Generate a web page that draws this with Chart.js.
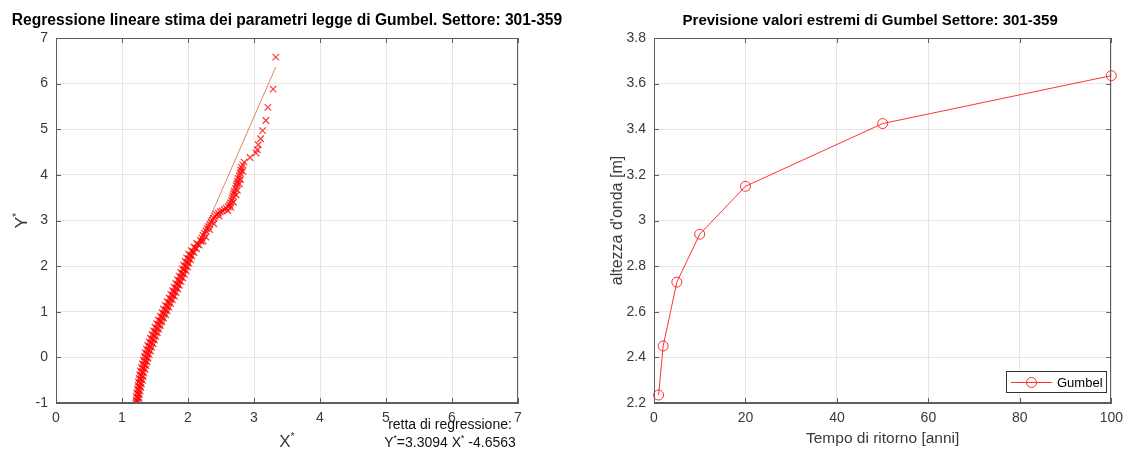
<!DOCTYPE html>
<html>
<head>
<meta charset="utf-8">
<script src="https://cdn.jsdelivr.net/npm/chart.js@4.4.1/dist/chart.umd.min.js"></script>
<style>
  html, body { margin: 0; padding: 0; background: #fff; overflow: hidden; }
  .panel { position: absolute; top: 0; width: 565px; height: 451px; }
  #left { left: 0; }
  #right { left: 565px; }
</style>
</head>
<body>
<div class="panel" id="left"><canvas id="regChart"></canvas></div>
<div class="panel" id="right"><canvas id="gumbelChart"></canvas></div>
<script>
// ridotte X* / Y* dei campioni ordinati (settore 301-359)
const regX = [
  3.33, 3.29, 3.21, 3.18, 3.13, 3.10, 3.065, 3.05, 3.03, 2.94, 2.85,
  2.83, 2.81, 2.80, 2.79, 2.78, 2.76, 2.75, 2.74, 2.73, 2.72, 2.70, 2.69, 2.68, 2.67,
  2.66, 2.64, 2.63, 2.61, 2.58, 2.55, 2.52, 2.49, 2.46, 2.43, 2.41, 2.39, 2.37, 2.35,
  2.33, 2.31, 2.29, 2.27, 2.25, 2.23, 2.21, 2.19,
  2.83, 2.795, 2.78, 2.75, 2.73, 2.69, 2.65, 2.60, 2.47, 2.39, 2.33, 2.27, 2.23,
  2.13, 2.20, 2.09, 2.17, 2.05, 2.13, 2.01, 2.09, 1.98, 2.06, 1.96, 2.04, 1.935, 2.015,
  1.915, 1.995, 1.89, 1.97, 1.865, 1.945, 1.84, 1.92, 1.815, 1.895, 1.79, 1.87,
  1.765, 1.845, 1.74, 1.82, 1.715, 1.795, 1.685, 1.765, 1.655, 1.735, 1.63, 1.71,
  1.605, 1.685, 1.58, 1.66, 1.55, 1.63, 1.525, 1.605, 1.50, 1.58, 1.475, 1.555,
  1.455, 1.535, 1.43, 1.51, 1.41, 1.49, 1.39, 1.47, 1.37, 1.45, 1.35, 1.43,
  1.34, 1.41, 1.325, 1.395, 1.31, 1.38, 1.295, 1.365, 1.28, 1.35, 1.27, 1.33,
  1.26, 1.32, 1.25, 1.31, 1.245, 1.295, 1.235, 1.285, 1.225, 1.275, 1.22, 1.26,
  1.215, 1.255, 1.21, 1.25,
  2.15, 2.11, 2.07, 2.035, 2.01, 1.99, 1.965, 1.94, 1.92, 1.89, 1.87, 1.84, 1.82,
  1.79, 1.77, 1.74, 1.71, 1.68, 1.66, 1.63, 1.605, 1.58, 1.55, 1.53, 1.505, 1.48,
  1.46, 1.44, 1.42, 1.40, 1.38, 1.37, 1.35, 1.34, 1.32, 1.31, 1.295, 1.285, 1.275,
  1.265, 1.255, 1.245, 1.24, 1.23];
const regY = [
  6.58, 5.88, 5.48, 5.19, 4.97, 4.79, 4.66, 4.55, 4.48, 4.38, 4.28,
  4.22, 4.16, 4.10, 4.04, 3.98, 3.92, 3.86, 3.81, 3.76, 3.70, 3.64, 3.59, 3.54, 3.49,
  3.44, 3.39, 3.34, 3.30, 3.27, 3.24, 3.21, 3.19, 3.16, 3.13, 3.09, 3.05, 3.01, 2.97,
  2.92, 2.87, 2.82, 2.77, 2.72, 2.67, 2.62, 2.57,
  4.08, 3.90, 3.80, 3.66, 3.56, 3.40, 3.29, 3.22, 3.10, 2.93, 2.80, 2.64, 2.55,
  2.50, 2.54, 2.42, 2.46, 2.34, 2.38, 2.26, 2.30, 2.18, 2.22, 2.10, 2.14, 2.02, 2.06,
  1.94, 1.98, 1.86, 1.90, 1.78, 1.82, 1.70, 1.74, 1.62, 1.66, 1.54, 1.58,
  1.46, 1.50, 1.38, 1.42, 1.30, 1.34, 1.22, 1.26, 1.14, 1.18, 1.06, 1.10,
  0.98, 1.02, 0.90, 0.94, 0.82, 0.86, 0.74, 0.78, 0.66, 0.70, 0.58, 0.62,
  0.50, 0.54, 0.42, 0.46, 0.34, 0.38, 0.26, 0.30, 0.18, 0.22, 0.10, 0.14,
  0.02, 0.06, -0.06, -0.02, -0.14, -0.10, -0.22, -0.18, -0.30, -0.26, -0.38, -0.34,
  -0.46, -0.42, -0.54, -0.50, -0.62, -0.58, -0.70, -0.66, -0.78, -0.74, -0.86, -0.82,
  -0.94, -0.90, -1.0, -0.98,
  2.48, 2.40, 2.32, 2.24, 2.16, 2.08, 2.00, 1.92, 1.84, 1.76, 1.68, 1.60, 1.52,
  1.44, 1.36, 1.28, 1.20, 1.12, 1.04, 0.96, 0.88, 0.80, 0.72, 0.64, 0.56, 0.48,
  0.40, 0.32, 0.24, 0.16, 0.08, 0.00, -0.08, -0.16, -0.24, -0.32, -0.40, -0.48, -0.56,
  -0.64, -0.72, -0.80, -0.88, -0.96];

// retta di regressione Y* = a X* + b
const slope = 3.3094;
const intercept = -4.6563;
const fitRangeX = [1.22, 3.33];

// previsione valori estremi
const returnPeriods = [1, 2, 5, 10, 20, 50, 100];
const waveHeights = [2.235, 2.45, 2.73, 2.94, 3.15, 3.425, 3.635];

const regXTicks = [0, 1, 2, 3, 4, 5, 6, 7];
const regYTicks = [-1, 0, 1, 2, 3, 4, 5, 6, 7];
const tempoTicks = [0, 20, 40, 60, 80, 100];
const altezzaTicks = [2.2, 2.4, 2.6, 2.8, 3, 3.2, 3.4, 3.6, 3.8];

const FONT = "'Liberation Sans', Arial, Helvetica, sans-serif";
const AXIS_COLOR = '#5e5e5e';
const TEXT_COLOR = '#3a3a3a';

function axis(min, max, ticks, opts) {
  return {
    type: 'linear',
    min, max,
    afterBuildTicks: s => { s.ticks = ticks.map(v => ({ value: v })); },
    afterFit: s => {
      if (opts.width !== undefined) s.width = opts.width;
      if (opts.height !== undefined) s.height = opts.height;
    },
    ticks: {
      color: TEXT_COLOR,
      font: { family: FONT, size: 14 },
      padding: opts.pad,
      maxRotation: 0,
      autoSkip: false,
      callback: v => String(Math.round(v * 10) / 10)
    },
    grid: { color: '#e6e6e6', lineWidth: 1, drawTicks: false },
    border: { display: true, color: AXIS_COLOR, width: 1 }
  };
}

// testo con apici (Y*, X*)
function drawParts(ctx, parts, x, y, size, align) {
  const sup = size * 0.62;
  let total = 0;
  parts.forEach(([t, isSup]) => {
    ctx.font = `${isSup ? sup : size}px ${FONT}`;
    total += ctx.measureText(t).width;
  });
  let cx = align === 'center' ? x - total / 2 : (align === 'right' ? x - total : x);
  ctx.textAlign = 'left';
  parts.forEach(([t, isSup]) => {
    ctx.font = `${isSup ? sup : size}px ${FONT}`;
    ctx.fillText(t, cx, isSup ? y - size * 0.42 : y);
    cx += ctx.measureText(t).width;
  });
}

// box, tacche interne, titoli ed etichette in stile MATLAB
const decor = {
  id: 'decor',
  afterDraw(chart, args, o) {
    const ctx = chart.ctx;
    const a = chart.chartArea;
    const xs = chart.scales.x, ys = chart.scales.y;
    ctx.save();
    ctx.strokeStyle = AXIS_COLOR;
    ctx.lineWidth = 1;
    ctx.strokeRect(Math.round(a.left) + 0.5, Math.round(a.top) + 0.5,
      Math.round(a.right - a.left) - 1, Math.round(a.bottom - a.top) - 1);
    ctx.beginPath();
    xs.ticks.forEach(t => {
      const px = Math.round(xs.getPixelForValue(t.value)) + 0.5;
      ctx.moveTo(px, a.bottom); ctx.lineTo(px, a.bottom - 5);
      ctx.moveTo(px, a.top); ctx.lineTo(px, a.top + 5);
    });
    ys.ticks.forEach(t => {
      const py = Math.round(ys.getPixelForValue(t.value)) + 0.5;
      ctx.moveTo(a.left, py); ctx.lineTo(a.left + 5, py);
      ctx.moveTo(a.right, py); ctx.lineTo(a.right - 5, py);
    });
    ctx.stroke();

    ctx.fillStyle = '#000';
    ctx.textBaseline = 'alphabetic';
    ctx.textAlign = 'center';
    ctx.font = `bold ${o.titleSize}px ${FONT}`;
    ctx.fillText(o.title, (a.left + a.right) / 2 + (o.titleShift || 0), 25);

    ctx.fillStyle = TEXT_COLOR;
    const midY = (a.top + a.bottom) / 2;
    ctx.save();
    ctx.translate(o.yLabelX, midY);
    ctx.rotate(-Math.PI / 2);
    drawParts(ctx, o.yLabel, 0, 0, o.yLabelSize, 'center');
    ctx.restore();
    drawParts(ctx, o.xLabel, (a.left + a.right) / 2, o.xLabelY, o.xLabelSize, 'center');
    if (o.extra) o.extra(ctx, chart);
    ctx.restore();
  }
};

new Chart(document.getElementById('regChart'), {
  type: 'scatter',
  data: {
    datasets: [
      {
        label: 'campioni',
        data: regX.map((x, i) => ({ x, y: regY[i] })),
        pointStyle: 'crossRot',
        pointRadius: 4.6,
        borderColor: 'rgba(255,0,0,0.75)',
        borderWidth: 1.3,
        order: 1
      },
      {
        type: 'line',
        label: 'regressione',
        data: fitRangeX.map(x => ({ x, y: slope * x + intercept })),
        borderColor: 'rgba(217,83,25,0.7)',
        borderWidth: 1,
        pointRadius: 0,
        order: 2
      }
    ]
  },
  options: {
    responsive: true,
    maintainAspectRatio: false,
    animation: false,
    layout: { padding: { top: 38, right: 47, bottom: 0, left: 0 } },
    scales: {
      x: axis(0, 7, regXTicks, { height: 48, pad: 7 }),
      y: axis(-1, 7, regYTicks, { width: 56, pad: 8 })
    },
    plugins: {
      legend: { display: false },
      tooltip: { enabled: false },
      decor: {
        title: 'Regressione lineare stima dei parametri legge di Gumbel. Settore: 301-359',
        titleSize: 15.6,
        yLabel: [['Y', false], ['*', true]],
        yLabelX: 27,
        yLabelSize: 17,
        xLabel: [['X', false], ['*', true]],
        xLabelY: 447,
        xLabelSize: 17,
        extra(ctx) {
          ctx.fillStyle = '#111';
          ctx.textAlign = 'center';
          ctx.font = `14px ${FONT}`;
          ctx.fillText('retta di regressione:', 450, 429);
          drawParts(ctx, [['Y', false], ['*', true], ['=' + slope.toFixed(4) + ' X', false], ['*', true],
            [' ' + intercept.toFixed(4), false]], 450, 447, 14, 'center');
        }
      }
    }
  },
  plugins: [decor]
});

new Chart(document.getElementById('gumbelChart'), {
  type: 'line',
  data: {
    datasets: [{
      label: 'Gumbel',
      data: returnPeriods.map((t, i) => ({ x: t, y: waveHeights[i] })),
      borderColor: 'rgba(255,0,0,0.8)',
      borderWidth: 1,
      pointStyle: 'circle',
      pointRadius: 5,
      pointBorderWidth: 1,
      pointBackgroundColor: 'rgba(0,0,0,0)',
      pointBorderColor: 'rgba(255,0,0,0.8)',
      tension: 0,
      clip: false
    }]
  },
  options: {
    responsive: true,
    maintainAspectRatio: false,
    animation: false,
    layout: { padding: { top: 38, right: 16, bottom: 0, left: 0 } },
    scales: {
      x: axis(0, 100, tempoTicks, { height: 48, pad: 7 }),
      y: axis(2.2, 3.8, altezzaTicks, { width: 89, pad: 8 })
    },
    plugins: {
      legend: { display: false },
      tooltip: { enabled: false },
      decor: {
        title: 'Previsione valori estremi di Gumbel Settore: 301-359',
        titleSize: 15,
        titleShift: -12.5,
        yLabel: [["altezza d'onda [m]", false]],
        yLabelX: 57,
        yLabelSize: 16,
        xLabel: [['Tempo di ritorno [anni]', false]],
        xLabelY: 443,
        xLabelSize: 15.5,
        extra(ctx, chart) {
          // legenda
          const ds = chart.data.datasets[0];
          ctx.fillStyle = '#fff';
          ctx.fillRect(441, 371, 100, 21);
          ctx.strokeStyle = '#333';
          ctx.lineWidth = 1;
          ctx.strokeRect(441.5, 371.5, 100, 21);
          ctx.strokeStyle = ds.borderColor;
          ctx.beginPath();
          ctx.moveTo(446, 382.5); ctx.lineTo(487, 382.5);
          ctx.stroke();
          ctx.beginPath();
          ctx.arc(466.5, 382.5, 5, 0, Math.PI * 2);
          ctx.stroke();
          ctx.fillStyle = '#000';
          ctx.textAlign = 'left';
          ctx.font = `13px ${FONT}`;
          ctx.fillText(ds.label, 492, 387);
        }
      }
    }
  },
  plugins: [decor]
});
</script>
</body>
</html>
